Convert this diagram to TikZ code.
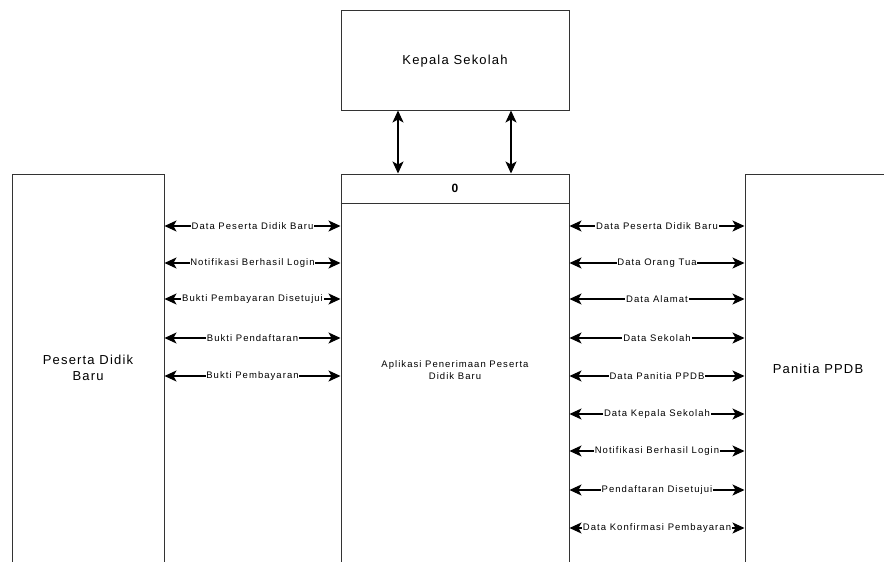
\documentclass[tikz,border=0pt]{standalone}
\usepackage{fontspec}
\setmainfont{Liberation Sans}
\usetikzlibrary{arrows.meta}
\begin{document}
\begin{tikzpicture}[x=1pt,y=-1pt,
  entity/.style={draw=black!80, line width=1pt, fill=white, inner sep=0pt},
  title/.style={font=\fontsize{13}{16}\selectfont\addfontfeature{LetterSpace=9}, align=center},
  flow/.style={{Stealth[length=12pt,width=11pt,inset=3pt]}-{Stealth[length=12pt,width=11pt,inset=3pt]}, line width=1.1pt},
  flowtext/.style={font=\fontsize{9.5}{12}\selectfont\addfontfeature{LetterSpace=11}},
  flowlbl/.style={flowtext, fill=white, inner sep=0.8pt}]
\useasboundingbox (0,0) rectangle (884,562);
\clip (0,0) rectangle (884,562);
\fill[white] (0,0) rectangle (884,562);

% external entities and the process box (bottoms run past the page edge)
\node[entity, minimum width=228pt, minimum height=100pt] (ks) at (455,60) {};
\node[title] (kst) at (455,61) {Kepala Sekolah};
\node[entity, minimum width=228pt, minimum height=446pt] (app) at (455,397) {};
\node[entity, minimum width=152pt, minimum height=446pt] (pdb) at (88,397) {};
\node[entity, minimum width=146pt, minimum height=446pt] (pan) at (818,397) {};

% process header
\draw[black!80, line width=1pt] (app.west |- 0,203) -- (app.east |- 0,203);
\node[font=\fontsize{12}{14}\selectfont\bfseries] (pid) at (455,188) {0};
\node[flowtext, align=center] (appt) at (455,370) {Aplikasi Penerimaan Peserta\\Didik Baru};
\node[title] (pdbt) at (88,368) {Peserta Didik\\Baru};
\node[title] (pant) at (818,369) {Panitia PPDB};

% flows to the head of school
\draw[flow] (ks.south -| 398,0) -- (app.north -| 398,0);
\draw[flow] (ks.south -| 511,0) -- (app.north -| 511,0);

% flows with the new students
\foreach \y/\t in {226/Data Peserta Didik Baru, 263/Notifikasi Berhasil Login,
                   299/Bukti Pembayaran Disetujui, 338/Bukti Pendaftaran,
                   376/Bukti Pembayaran}
  \draw[flow] (pdb.east |- 0,\y) -- (app.west |- 0,\y) node[midway, flowlbl] {\t};

% flows with the committee
\foreach \y/\t in {226/Data Peserta Didik Baru, 263/Data Orang Tua, 299/Data Alamat,
                   338/Data Sekolah, 376/Data Panitia PPDB, 414/Data Kepala Sekolah,
                   451/Notifikasi Berhasil Login, 490/Pendaftaran Disetujui,
                   528/Data Konfirmasi Pembayaran}
  \draw[flow] (app.east |- 0,\y) -- (pan.west |- 0,\y) node[midway, flowlbl] {\t};
\end{tikzpicture}
\end{document}
